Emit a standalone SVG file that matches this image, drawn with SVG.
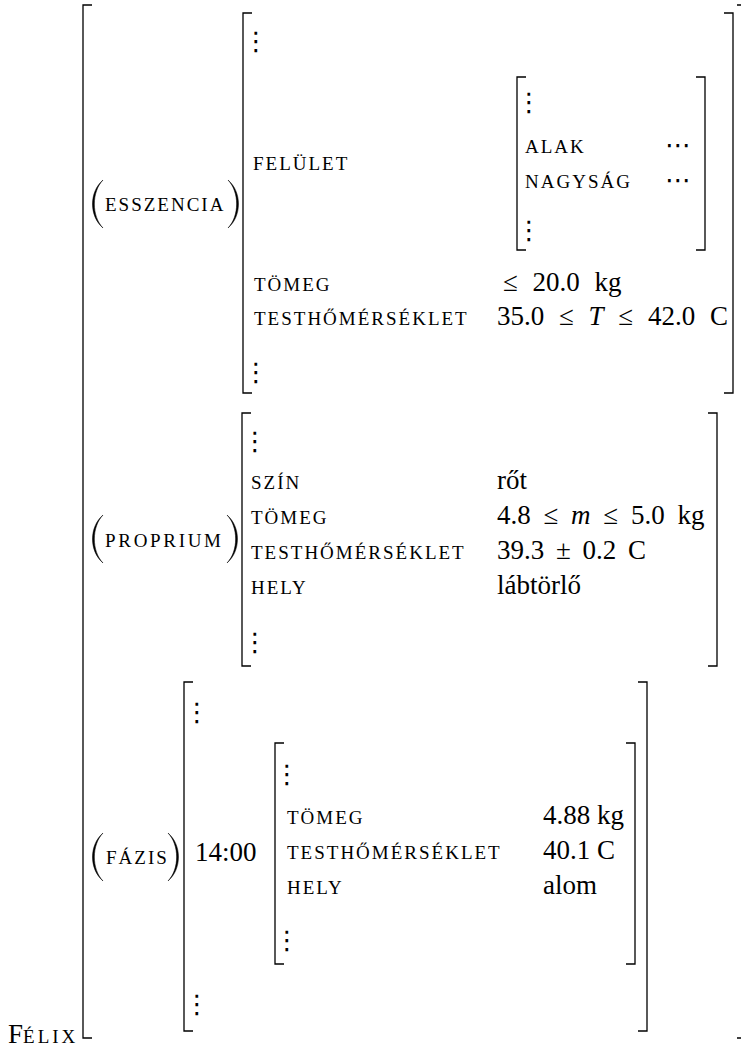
<svg xmlns="http://www.w3.org/2000/svg" width="741" height="1048" viewBox="0 0 741 1048">
<style>
text{fill:#000}
.sc{font-family:"Liberation Serif",serif;font-size:19px;letter-spacing:2px}
.rm{font-family:"Liberation Serif",serif;font-size:27px}
.m{word-spacing:6px}
.m8{word-spacing:8px}
.it{font-style:italic}
.vd{font-family:"DejaVu Sans",sans-serif;font-size:26px;text-anchor:middle}
.cd{font-family:"DejaVu Sans",sans-serif;font-size:26px}
.br{fill:none;stroke:#000;stroke-width:1.3}
.par{fill:#000;stroke:#000;stroke-width:0.5}
</style>
<defs>
<path id="lp" d="M11,0 C-3,12 -3,36 11,48 C-0.5,36 -0.5,12 11,0 Z"/>
<path id="rp" d="M0,0 C14,12 14,36 0,48 C11.5,36 11.5,12 0,0 Z"/>
</defs>

<g id="felix">
<text class="rm" x="8" y="1043">F<tspan class="sc" style="letter-spacing:3px">ÉLIX</tspan></text>
<path class="br" d="M92,5 H83 V1038 H92"/>
<path class="br" d="M737,5 H746 V1038 H737"/>
</g>

<g id="esszencia">
<use href="#lp" class="par" x="92" y="180"/>
<text class="sc" x="105" y="211">ESSZENCIA</text>
<use href="#rp" class="par" x="228" y="180"/>
<path class="br" d="M252,13 H243 V393 H252"/>
<path class="br" d="M724,13 H733 V393 H724"/>
<text class="vd" x="256" y="50">⋮</text>
<text class="sc" x="253" y="170">FELÜLET</text>
<text class="sc" x="254" y="291">TÖMEG</text>
<text class="rm m8" x="503" y="291">≤ 20.0 kg</text>
<text class="sc" x="254" y="325">TESTHŐMÉRSÉKLET</text>
<text class="rm m8" x="497" y="325">35.0 ≤ <tspan class="it">T</tspan> ≤ 42.0 C</text>
<text class="vd" x="256" y="381">⋮</text>
</g>

<g id="felulet-ertek">
<path class="br" d="M526,77 H517 V250 H526"/>
<path class="br" d="M696,77 H705 V250 H696"/>
<text class="vd" x="529" y="111">⋮</text>
<text class="sc" x="525" y="153">ALAK</text>
<text class="cd" x="665" y="154">⋯</text>
<text class="sc" x="525" y="188">NAGYSÁG</text>
<text class="cd" x="665" y="189">⋯</text>
<text class="vd" x="529" y="239">⋮</text>
</g>

<g id="proprium">
<use href="#lp" class="par" x="92" y="515"/>
<text class="sc" x="105" y="547" textLength="118" lengthAdjust="spacing">PROPRIUM</text>
<use href="#rp" class="par" x="227" y="515"/>
<path class="br" d="M251,413 H242 V666 H251"/>
<path class="br" d="M708,413 H717 V666 H708"/>
<text class="vd" x="255" y="450">⋮</text>
<text class="sc" x="251" y="489">SZÍN</text>
<text class="rm" x="497" y="489">rőt</text>
<text class="sc" x="251" y="524">TÖMEG</text>
<text class="rm m" x="497" y="524">4.8 ≤ <tspan class="it">m</tspan> ≤ 5.0 kg</text>
<text class="sc" x="251" y="559">TESTHŐMÉRSÉKLET</text>
<text class="rm" x="497" y="559" style="word-spacing:5px">39.3 ± 0.2 C</text>
<text class="sc" x="251" y="594">HELY</text>
<text class="rm" x="497" y="594">lábtörlő</text>
<text class="vd" x="255" y="651">⋮</text>
</g>

<g id="fazis">
<use href="#lp" class="par" x="92" y="833"/>
<text class="sc" x="106" y="864">FÁZIS</text>
<use href="#rp" class="par" x="168" y="833"/>
<path class="br" d="M193,682 H184 V1031 H193"/>
<path class="br" d="M638,682 H647 V1031 H638"/>
<text class="vd" x="197" y="721">⋮</text>
<text class="rm" x="195" y="861">14:00</text>
<text class="vd" x="197" y="1013">⋮</text>
</g>

<g id="fazis-1400">
<path class="br" d="M284,743 H275 V964 H284"/>
<path class="br" d="M626,743 H635 V964 H626"/>
<text class="vd" x="287" y="783">⋮</text>
<text class="sc" x="287" y="824">TÖMEG</text>
<text class="rm" x="543" y="824">4.88 kg</text>
<text class="sc" x="287" y="859">TESTHŐMÉRSÉKLET</text>
<text class="rm" x="543" y="859">40.1 C</text>
<text class="sc" x="287" y="894">HELY</text>
<text class="rm" x="543" y="894">alom</text>
<text class="vd" x="287" y="949">⋮</text>
</g>
</svg>
